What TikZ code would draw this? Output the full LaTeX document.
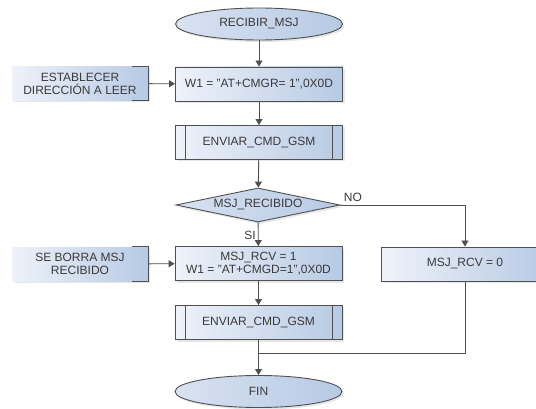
\documentclass[tikz,border=0pt]{standalone}
\usepackage{fontspec}
\setmainfont{Liberation Sans}
\usetikzlibrary{shapes.geometric,arrows.meta,shadows}
\definecolor{fondoL}{HTML}{EEF2FA}
\definecolor{fondoR}{HTML}{B7CAE4}
\definecolor{borde}{HTML}{505050}
\definecolor{texto}{HTML}{3A3A3A}

\begin{document}
\begin{tikzpicture}[x=1pt,y=-1pt,
font=\fontsize{12}{13}\selectfont,
sombra/.style={drop shadow={shadow xshift=2pt,shadow yshift=-2pt,opacity=0.2}},
linea/.style={draw=borde,line width=0.9pt},
flecha/.style={linea,-{Triangle[width=7pt,length=6pt]}}]
\tikzstyle{every node}=[text=texto,inner sep=0pt,align=center]
\tikzstyle{proc}=[rectangle,draw=borde,line width=0.9pt,left color=fondoL,right color=fondoR,
  minimum width=167pt,minimum height=34pt,sombra]
\tikzstyle{term}=[ellipse,draw=borde,line width=0.9pt,left color=fondoL!60!fondoR,right color=fondoR,
  minimum width=167pt,minimum height=32pt,sombra]
\tikzstyle{sub}=[proc,path picture={
  \draw[linea] ([xshift=10pt]path picture bounding box.north west) -- ([xshift=10pt]path picture bounding box.south west);
  \draw[linea] ([xshift=-10pt]path picture bounding box.north east) -- ([xshift=-10pt]path picture bounding box.south east);}]
\tikzstyle{dec}=[diamond,draw=borde,line width=0.9pt,left color=fondoL!60!fondoR,right color=fondoR,
  aspect=4.8,minimum width=164pt,minimum height=34pt,sombra]
\tikzstyle{nota}=[rectangle,left color=fondoL,right color=fondoR,minimum width=136pt,minimum height=34pt,sombra]
\useasboundingbox (0,0) rectangle (536,409);

    % columna principal
    \node[term] (inicio) at (259,24) {RECIBIR\_MSJ};
    \node[proc] (w1) at (259,84) {W1 = "AT+CMGR= 1",0X0D};
    \node[sub] (env1) at (259,142.5) {ENVIAR\_CMD\_GSM};
    \node[dec] (msj) at (258,205) {MSJ\_RECIBIDO};
    \node[proc] (rcv1) at (258.5,263.5) {MSJ\_RCV = 1\\W1 = "AT+CMGD=1",0X0D};
    \node[sub] (env2) at (258.5,322.5) {ENVIAR\_CMD\_GSM};
    \node[term] (fin) at (258.5,391.5) {FIN};
    \node[proc] (rcv0) at (465,264) {MSJ\_RCV = 0};

    % notas a la izquierda
    \node[nota] (dir) at (80,83.5) {ESTABLECER\\DIRECCIÓN A LEER};
    \node[nota] (borra) at (80,264) {SE BORRA MSJ\\RECIBIDO};
    \foreach \n in {dir,borra}
      \draw[linea] ([xshift=-16pt]\n.north east) -| (\n.south east) -- ++(-16,0);

    \coordinate (union) at (258.5,353);

    \draw[flecha] (inicio) -- (w1);
    \draw[flecha] (w1) -- (env1);
    \draw[flecha] (env1) -- (msj);
    \draw[flecha] (msj) -- node[pos=0.55,left=2pt] {SI} (rcv1);
    \draw[flecha] (msj.east) -| node[pos=0.05,above=3pt] {NO} (rcv0);
    \draw[flecha] (rcv1) -- (env2);
    \draw[flecha] (env2) -- (fin);
    \draw[linea] (rcv0) |- (union);
    \draw[flecha] (dir) -- (w1);
    \draw[flecha] (borra) -- (rcv1);

\end{tikzpicture}
\end{document}
